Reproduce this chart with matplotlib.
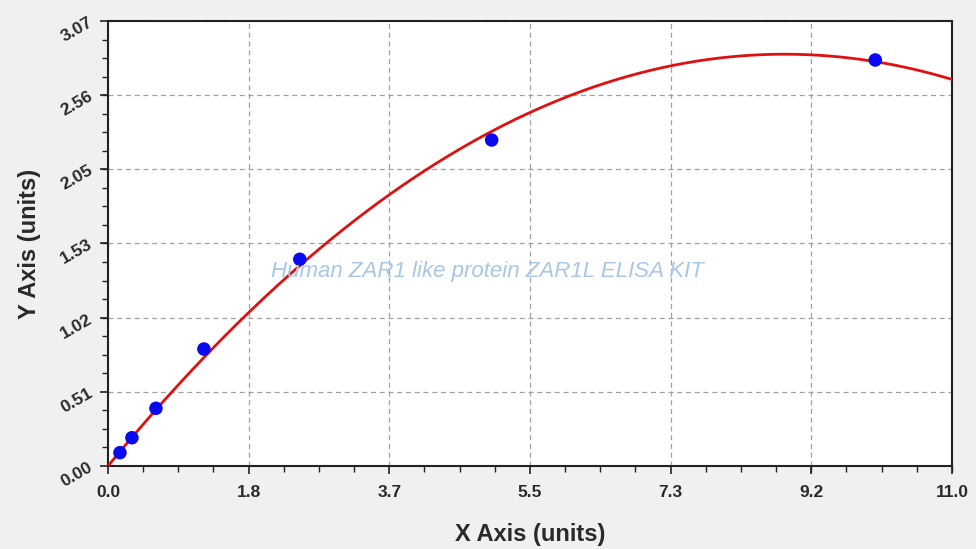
import numpy as np
import matplotlib
matplotlib.use("Agg")
import matplotlib.pyplot as plt
from matplotlib.ticker import FixedLocator, AutoMinorLocator

# Data (standard curve points)
conc = [0.156, 0.312, 0.625, 1.25, 2.5, 5.0, 10.0]
od = [0.092, 0.195, 0.398, 0.807, 1.426, 2.249, 2.801]

x_ticks = [0.0, 1.8333, 3.6667, 5.5, 7.3333, 9.1667, 11.0]
x_tick_labels = ["0.0", "1.8", "3.7", "5.5", "7.3", "9.2", "11.0"]
y_ticks = [0.0, 0.5117, 1.0233, 1.535, 2.0467, 2.5583, 3.07]
y_tick_labels = ["0.00", "0.51", "1.02", "1.53", "2.05", "2.56", "3.07"]

title_text = "Human ZAR1 like protein ZAR1L ELISA KIT"
x_label = "X Axis (units)"
y_label = "Y Axis (units)"

plt.rcParams['font.family'] = ['Liberation Sans', 'DejaVu Sans']

fig = plt.figure(figsize=(9.76, 5.49), dpi=100, facecolor="#f0f0f0")
ax = fig.add_axes([108/976, 1 - 466/549, (952-108)/976, (466-21)/549])
ax.set_facecolor("white")

# fitted curve: 2nd order polynomial through the origin, least squares on the data
cx = np.asarray(conc)
A = np.column_stack([cx, cx**2])
(c1, c2), *_ = np.linalg.lstsq(A, np.asarray(od), rcond=None)
xs = np.linspace(0, 11, 300)
ax.plot(xs, c1 * xs + c2 * xs**2, color="#e01010", lw=2.0, zorder=3)
ax.scatter(conc, od, s=95, color="#0a0af0", zorder=4, edgecolors="none")

ax.set_xlim(0, 11)
ax.set_ylim(0, 3.07)
ax.xaxis.set_major_locator(FixedLocator(x_ticks))
ax.yaxis.set_major_locator(FixedLocator(y_ticks))
ax.set_xticklabels(x_tick_labels)
ax.set_yticklabels(y_tick_labels)
ax.xaxis.set_minor_locator(AutoMinorLocator(4))
ax.yaxis.set_minor_locator(AutoMinorLocator(4))

ax.grid(True, which="major", color="#a0a0a0", ls=(0, (4, 3)), lw=0.9)
ax.tick_params(which="major", direction="out", length=6, width=1.2, color="#222222")
ax.tick_params(which="minor", direction="out", length=4, width=1.0, color="#222222")
ax.tick_params(axis="x", labelsize=12.5, labelcolor="#2a2a2a", pad=8)
ax.tick_params(axis="y", labelsize=12.5, labelcolor="#2a2a2a", pad=6)
for lbl in ax.get_xticklabels():
    lbl.set_fontweight("bold")
for lbl in ax.get_yticklabels():
    lbl.set_fontweight("bold")
    lbl.set_rotation(30)
    lbl.set_rotation_mode("anchor")
    lbl.set_ha("right")
    lbl.set_va("center")

for s in ax.spines.values():
    s.set_color("#222222")
    s.set_linewidth(1.5)

ax.set_xlabel(x_label, fontsize=17, fontweight="bold", color="#2a2a2a", labelpad=16)
ax.set_ylabel(y_label, fontsize=17, fontweight="bold", color="#2a2a2a", labelpad=12)

ax.text(0.449, 0.438, title_text, transform=ax.transAxes, ha="center", va="center",
        fontsize=16, style="italic", color="#a8c6e6", zorder=5)

fig.savefig("out.png", dpi=100, facecolor=fig.get_facecolor())
